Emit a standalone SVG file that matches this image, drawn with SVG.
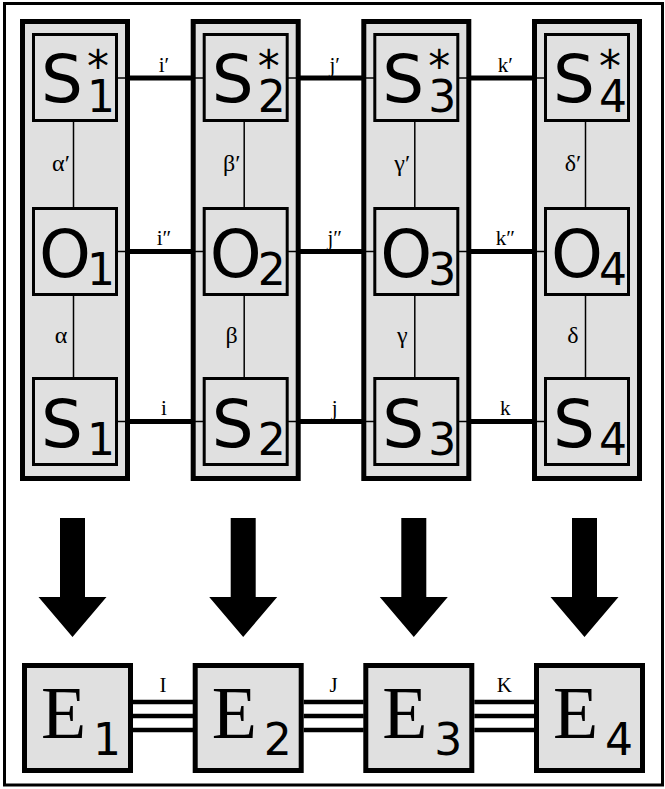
<svg xmlns="http://www.w3.org/2000/svg" width="665" height="789" viewBox="0 0 665 789">
<style>
.frame{fill:#fff;stroke:#000;stroke-width:3}
.col{fill:#e0e0e0;stroke:#000;stroke-width:5}
.box{fill:#e0e0e0;stroke:#000;stroke-width:3}
.ebox{fill:#e0e0e0;stroke:#000;stroke-width:5}
.thin{stroke:#000;stroke-width:1.5;fill:none}
.thick{stroke:#000;stroke-width:5;fill:none}
.tri{stroke:#000;stroke-width:4.5;fill:none}
.big{font-family:"DejaVu Sans",sans-serif;font-size:66px;fill:#000}
.sub{font-family:"DejaVu Sans",sans-serif;font-size:44px;fill:#000}
.ebig{font-family:"Liberation Serif",serif;font-size:74px;fill:#000}
.lbl{font-family:"Liberation Serif",serif;font-size:21px;fill:#000;text-anchor:middle}
.glbl{font-family:"Liberation Serif",serif;font-size:24px;fill:#000;text-anchor:middle}
.arrow{fill:#000}
</style>
<rect class="frame" x="4.5" y="3.5" width="658" height="781.5"/>

<g id="col1"><rect class="col" x="22.5" y="21.5" width="105" height="457"/></g>
<g id="col2"><rect class="col" x="193.2" y="21.5" width="105" height="457"/></g>
<g id="col3"><rect class="col" x="363.8" y="21.5" width="105" height="457"/></g>
<g id="col4"><rect class="col" x="534.5" y="21.5" width="105" height="457"/></g>

<g id="connectors">
  <line class="thin" x1="73.5" y1="121" x2="73.5" y2="207"/>
  <line class="thin" x1="73.5" y1="295" x2="73.5" y2="377"/>
  <line class="thin" x1="244.2" y1="121" x2="244.2" y2="207"/>
  <line class="thin" x1="244.2" y1="295" x2="244.2" y2="377"/>
  <line class="thin" x1="414.8" y1="121" x2="414.8" y2="207"/>
  <line class="thin" x1="414.8" y1="295" x2="414.8" y2="377"/>
  <line class="thin" x1="585.5" y1="121" x2="585.5" y2="207"/>
  <line class="thin" x1="585.5" y1="295" x2="585.5" y2="377"/>
  <line class="thin" x1="116.5" y1="78" x2="204.2" y2="78"/>
  <line class="thin" x1="287.2" y1="78" x2="374.8" y2="78"/>
  <line class="thin" x1="457.8" y1="78" x2="545.5" y2="78"/>
  <line class="thin" x1="116.5" y1="251.5" x2="204.2" y2="251.5"/>
  <line class="thin" x1="287.2" y1="251.5" x2="374.8" y2="251.5"/>
  <line class="thin" x1="457.8" y1="251.5" x2="545.5" y2="251.5"/>
  <line class="thin" x1="116.5" y1="421.5" x2="204.2" y2="421.5"/>
  <line class="thin" x1="287.2" y1="421.5" x2="374.8" y2="421.5"/>
  <line class="thin" x1="457.8" y1="421.5" x2="545.5" y2="421.5"/>
  <line class="thick" x1="127.5" y1="78" x2="193.2" y2="78"/>
  <line class="thick" x1="298.2" y1="78" x2="363.8" y2="78"/>
  <line class="thick" x1="468.8" y1="78" x2="534.5" y2="78"/>
  <line class="thick" x1="127.5" y1="251.5" x2="193.2" y2="251.5"/>
  <line class="thick" x1="298.2" y1="251.5" x2="363.8" y2="251.5"/>
  <line class="thick" x1="468.8" y1="251.5" x2="534.5" y2="251.5"/>
  <line class="thick" x1="127.5" y1="421.5" x2="193.2" y2="421.5"/>
  <line class="thick" x1="298.2" y1="421.5" x2="363.8" y2="421.5"/>
  <line class="thick" x1="468.8" y1="421.5" x2="534.5" y2="421.5"/>
  <line class="tri" x1="133" y1="702" x2="193" y2="702"/>
  <line class="tri" x1="133" y1="716" x2="193" y2="716"/>
  <line class="tri" x1="133" y1="730" x2="193" y2="730"/>
  <line class="tri" x1="303.7" y1="702" x2="363.7" y2="702"/>
  <line class="tri" x1="303.7" y1="716" x2="363.7" y2="716"/>
  <line class="tri" x1="303.7" y1="730" x2="363.7" y2="730"/>
  <line class="tri" x1="474.3" y1="702" x2="534.3" y2="702"/>
  <line class="tri" x1="474.3" y1="716" x2="534.3" y2="716"/>
  <line class="tri" x1="474.3" y1="730" x2="534.3" y2="730"/>
  <text class="lbl" x="164" y="72">i′</text>
  <text class="lbl" x="334.7" y="72">j′</text>
  <text class="lbl" x="505.3" y="72">k′</text>
  <text class="lbl" x="164" y="245">i″</text>
  <text class="lbl" x="334.7" y="245">j″</text>
  <text class="lbl" x="505.3" y="245">k″</text>
  <text class="lbl" x="164" y="415">i</text>
  <text class="lbl" x="334.7" y="415">j</text>
  <text class="lbl" x="505.3" y="415">k</text>
  <text class="glbl" x="61" y="171">α′</text>
  <text class="glbl" x="231.7" y="171">β′</text>
  <text class="glbl" x="402.3" y="171">γ′</text>
  <text class="glbl" x="573" y="171">δ′</text>
  <text class="glbl" x="61" y="343">α</text>
  <text class="glbl" x="231.7" y="343">β</text>
  <text class="glbl" x="402.3" y="343">γ</text>
  <text class="glbl" x="573" y="343">δ</text>
  <text class="lbl" x="163" y="692">I</text>
  <text class="lbl" x="333.7" y="692">J</text>
  <text class="lbl" x="504.3" y="692">K</text>
  <polygon class="arrow" points="60,518 85,518 85,597 106.5,597 72.5,637 38.5,597 60,597"/>
  <polygon class="arrow" points="230.7,518 255.7,518 255.7,597 277.2,597 243.2,637 209.2,597 230.7,597"/>
  <polygon class="arrow" points="401.3,518 426.3,518 426.3,597 447.8,597 413.8,637 379.8,597 401.3,597"/>
  <polygon class="arrow" points="572,518 597,518 597,597 618.5,597 584.5,637 550.5,597 572,597"/>
</g>

<g id="S1star"><rect class="box" x="33.5" y="34.5" width="83" height="86"/><text class="big" x="41" y="102">S<tspan class="sub" x="87" y="82">*</tspan><tspan class="sub" x="87" y="112">1</tspan></text></g>
<g id="S2star"><rect class="box" x="204.2" y="34.5" width="83" height="86"/><text class="big" x="211.7" y="102">S<tspan class="sub" x="257.7" y="82">*</tspan><tspan class="sub" x="257.7" y="112">2</tspan></text></g>
<g id="S3star"><rect class="box" x="374.8" y="34.5" width="83" height="86"/><text class="big" x="382.3" y="102">S<tspan class="sub" x="428.3" y="82">*</tspan><tspan class="sub" x="428.3" y="112">3</tspan></text></g>
<g id="S4star"><rect class="box" x="545.5" y="34.5" width="83" height="86"/><text class="big" x="553" y="102">S<tspan class="sub" x="599" y="82">*</tspan><tspan class="sub" x="599" y="112">4</tspan></text></g>

<g id="O1"><rect class="box" x="33.5" y="208.5" width="83" height="86"/><text class="big" x="39" y="277">O<tspan class="sub" x="87" y="285">1</tspan></text></g>
<g id="O2"><rect class="box" x="204.2" y="208.5" width="83" height="86"/><text class="big" x="209.7" y="277">O<tspan class="sub" x="257.7" y="285">2</tspan></text></g>
<g id="O3"><rect class="box" x="374.8" y="208.5" width="83" height="86"/><text class="big" x="380.3" y="277">O<tspan class="sub" x="428.3" y="285">3</tspan></text></g>
<g id="O4"><rect class="box" x="545.5" y="208.5" width="83" height="86"/><text class="big" x="551" y="277">O<tspan class="sub" x="599" y="285">4</tspan></text></g>

<g id="S1"><rect class="box" x="33.5" y="378.5" width="83" height="86"/><text class="big" x="41" y="447">S<tspan class="sub" x="87" y="455">1</tspan></text></g>
<g id="S2"><rect class="box" x="204.2" y="378.5" width="83" height="86"/><text class="big" x="211.7" y="447">S<tspan class="sub" x="257.7" y="455">2</tspan></text></g>
<g id="S3"><rect class="box" x="374.8" y="378.5" width="83" height="86"/><text class="big" x="382.3" y="447">S<tspan class="sub" x="428.3" y="455">3</tspan></text></g>
<g id="S4"><rect class="box" x="545.5" y="378.5" width="83" height="86"/><text class="big" x="553" y="447">S<tspan class="sub" x="599" y="455">4</tspan></text></g>

<g id="E1"><rect class="ebox" x="24.5" y="665.5" width="106" height="105"/><text class="ebig" x="41" y="738">E<tspan class="sub" x="93" y="755">1</tspan></text></g>
<g id="E2"><rect class="ebox" x="195.2" y="665.5" width="106" height="105"/><text class="ebig" x="211.7" y="738">E<tspan class="sub" x="263.7" y="755">2</tspan></text></g>
<g id="E3"><rect class="ebox" x="365.8" y="665.5" width="106" height="105"/><text class="ebig" x="382.3" y="738">E<tspan class="sub" x="434.3" y="755">3</tspan></text></g>
<g id="E4"><rect class="ebox" x="536.5" y="665.5" width="106" height="105"/><text class="ebig" x="553" y="738">E<tspan class="sub" x="605" y="755">4</tspan></text></g>
</svg>
